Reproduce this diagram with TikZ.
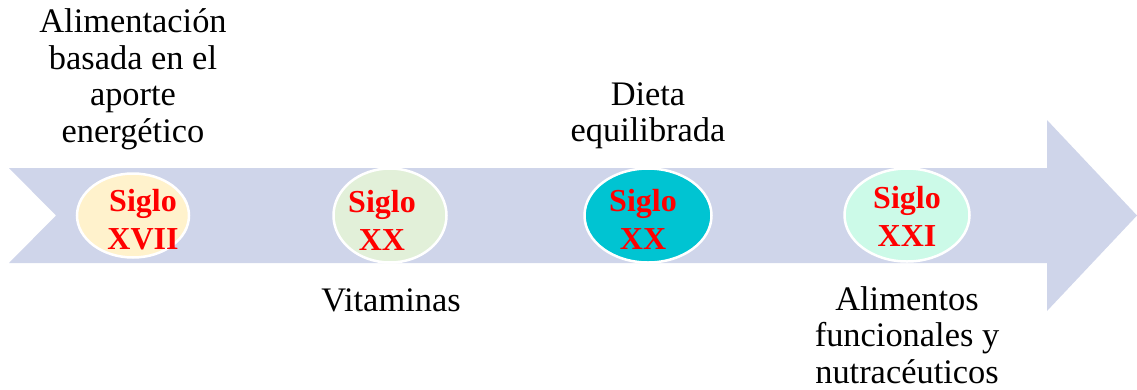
\documentclass[tikz,border=0pt]{standalone}
\usepackage{fontspec}
\setmainfont{Liberation Serif}
\usetikzlibrary{shapes.geometric}
\definecolor{arrowfill}{RGB}{207,213,234}
\definecolor{ringc}{RGB}{255,255,255}
\definecolor{e1}{RGB}{255,242,204}
\definecolor{e2}{RGB}{226,240,217}
\definecolor{e3}{RGB}{0,196,210}
\definecolor{e4}{RGB}{204,250,232}
\tikzset{
  px/.style={x=1pt,y=-1pt},
  era/.style={ellipse,draw=ringc,line width=2.5pt,inner sep=0pt},
  eratext/.style={align=center,text=red,inner sep=0pt,font=\fontsize{32}{38}\selectfont\bfseries},
  lab/.style={align=center,text=black,inner sep=0pt,font=\fontsize{34.4}{36.5}\selectfont}
}
\begin{document}
\begin{tikzpicture}[px]
\useasboundingbox (0,0) rectangle (1137,389);
\fill[arrowfill] (9,168) -- (1047,168) -- (1047,120) -- (1137,215.5) -- (1047,311) -- (1047,263) -- (9,263) -- (56,215.5) -- cycle;
\node[era,fill=e1,minimum width=112pt,minimum height=84pt] (a) at (133,215.5) {};
\node[era,fill=e2,minimum width=113pt,minimum height=94pt] (b) at (390,215.5) {};
\node[era,fill=e3,minimum width=127pt,minimum height=94pt] (c) at (648,215.5) {};
\node[era,fill=e4,minimum width=125pt,minimum height=93pt] (d) at (907,215) {};
\node[eratext] (ta) at (143,220) {Siglo\\XVII};
\node[eratext] (tb) at (382,220) {Siglo\\XX};
\node[eratext] (tc) at (643,219) {Siglo\\XX};
\node[eratext] (td) at (907,216) {Siglo\\XXI};
\node[lab] (la) at (133,79) {Alimentación\\basada en el\\aporte\\energético};
\node[lab] (lc) at (648,116) {Dieta\\equilibrada};
\node[lab] (lb) at (391,300) {Vitaminas};
\node[lab] (ld) at (907,335) {Alimentos\\funcionales y\\nutracéuticos};
\end{tikzpicture}
\end{document}
